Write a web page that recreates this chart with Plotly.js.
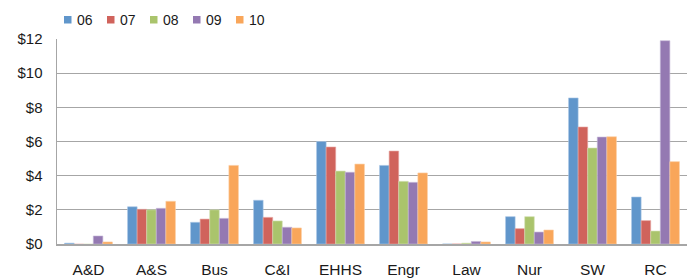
<!DOCTYPE html>
<html>
<head>
<meta charset="utf-8">
<script src="https://cdn.plot.ly/plotly-3.0.1.min.js"></script>
<style>html,body{margin:0;padding:0;background:#fff;}#chart{width:696px;height:279px;}</style>
</head>
<body>
<div id="chart"></div>
<script>
const categories = ["A&D", "A&S", "Bus", "C&I", "EHHS", "Engr", "Law", "Nur", "SW", "RC"];
const seriesNames = ["06", "07", "08", "09", "10"];
const v06 = [0.05, 2.18, 1.27, 2.56, 6.0, 4.6, 0.0, 1.6, 8.55, 2.75];
const v07 = [-0.05, 2.03, 1.46, 1.56, 5.68, 5.44, 0.0, 0.9, 6.85, 1.37];
const v08 = [-0.05, 2.0, 2.0, 1.35, 4.27, 3.67, 0.05, 1.6, 5.62, 0.76];
const v09 = [0.47, 2.09, 1.5, 0.98, 4.2, 3.61, 0.15, 0.7, 6.26, 11.9];
const v10 = [0.12, 2.5, 4.6, 0.94, 4.68, 4.16, 0.12, 0.82, 6.28, 4.82];
const yTickVals = [0, 2, 4, 6, 8, 10, 12];
const yTickText = ["$0", "$2", "$4", "$6", "$8", "$10", "$12"];

const colors = ["#6096CB", "#D0635C", "#AAC46C", "#9479B2", "#F9A65A"];
const edge = ["#A9C6E6", "#E8A9A5", "#D3E1B5", "#C6B8D8", "#FCD0A6"];
const allVals = [v06, v07, v08, v09, v10];

const W = 696, H = 279;
const M = {l: 57, r: 9, t: 39, b: 35};
const pw = W - M.l - M.r, ph = H - M.t - M.b;
const px2x = p => (p - M.l) / pw;
const py2y = p => (H - M.b - p) / ph;

const traces = allVals.map((vals, i) => ({
  type: "bar",
  name: seriesNames[i],
  x: categories,
  y: vals,
  marker: {color: colors[i], line: {color: edge[i], width: 0.6}},
  cliponaxis: false,
  hoverinfo: "none",
  showlegend: false
}));

// manual legend (Excel-like compact spacing)
const shapes = [];
const annotations = [];
seriesNames.forEach((name, i) => {
  const x0 = 64 + i * 43;
  shapes.push({
    type: "rect", xref: "paper", yref: "paper",
    x0: px2x(x0), x1: px2x(x0 + 7.5), y0: py2y(23.5), y1: py2y(16),
    fillcolor: colors[i], line: {width: 0}
  });
  annotations.push({
    xref: "paper", yref: "paper", x: px2x(x0 + 10.5), y: py2y(20),
    xanchor: "left", yanchor: "middle", showarrow: false,
    text: name, font: {size: 14, color: "#1a1a1a"}
  });
});

const layout = {
  width: W, height: H,
  margin: {l: M.l, r: M.r, t: M.t, b: M.b, autoexpand: false},
  paper_bgcolor: "#fff", plot_bgcolor: "#fff",
  font: {family: "Liberation Sans, Arial, sans-serif", size: 15, color: "#1a1a1a"},
  barmode: "group",
  bargap: 0.24,
  bargroupgap: 0,
  showlegend: false,
  shapes: shapes,
  annotations: annotations,
  xaxis: {
    type: "category",
    showline: true, linecolor: "#A6A6A6", linewidth: 1.5,
    ticks: "", tickfont: {size: 15.5, color: "#1a1a1a"},
    ticklabelstandoff: 11,
    showgrid: false, zeroline: false, fixedrange: true
  },
  yaxis: {
    range: [0, 12],
    tickvals: yTickVals, ticktext: yTickText,
    showline: true, linecolor: "#A6A6A6", linewidth: 1.5,
    showgrid: true, gridcolor: "#A6A6A6", gridwidth: 1.2,
    zeroline: false, ticks: "", ticklen: 0,
    ticklabelstandoff: 10,
    tickfont: {size: 15, color: "#1a1a1a"}, fixedrange: true
  }
};

Plotly.newPlot("chart", traces, layout, {staticPlot: true, displayModeBar: false});
</script>
</body>
</html>
